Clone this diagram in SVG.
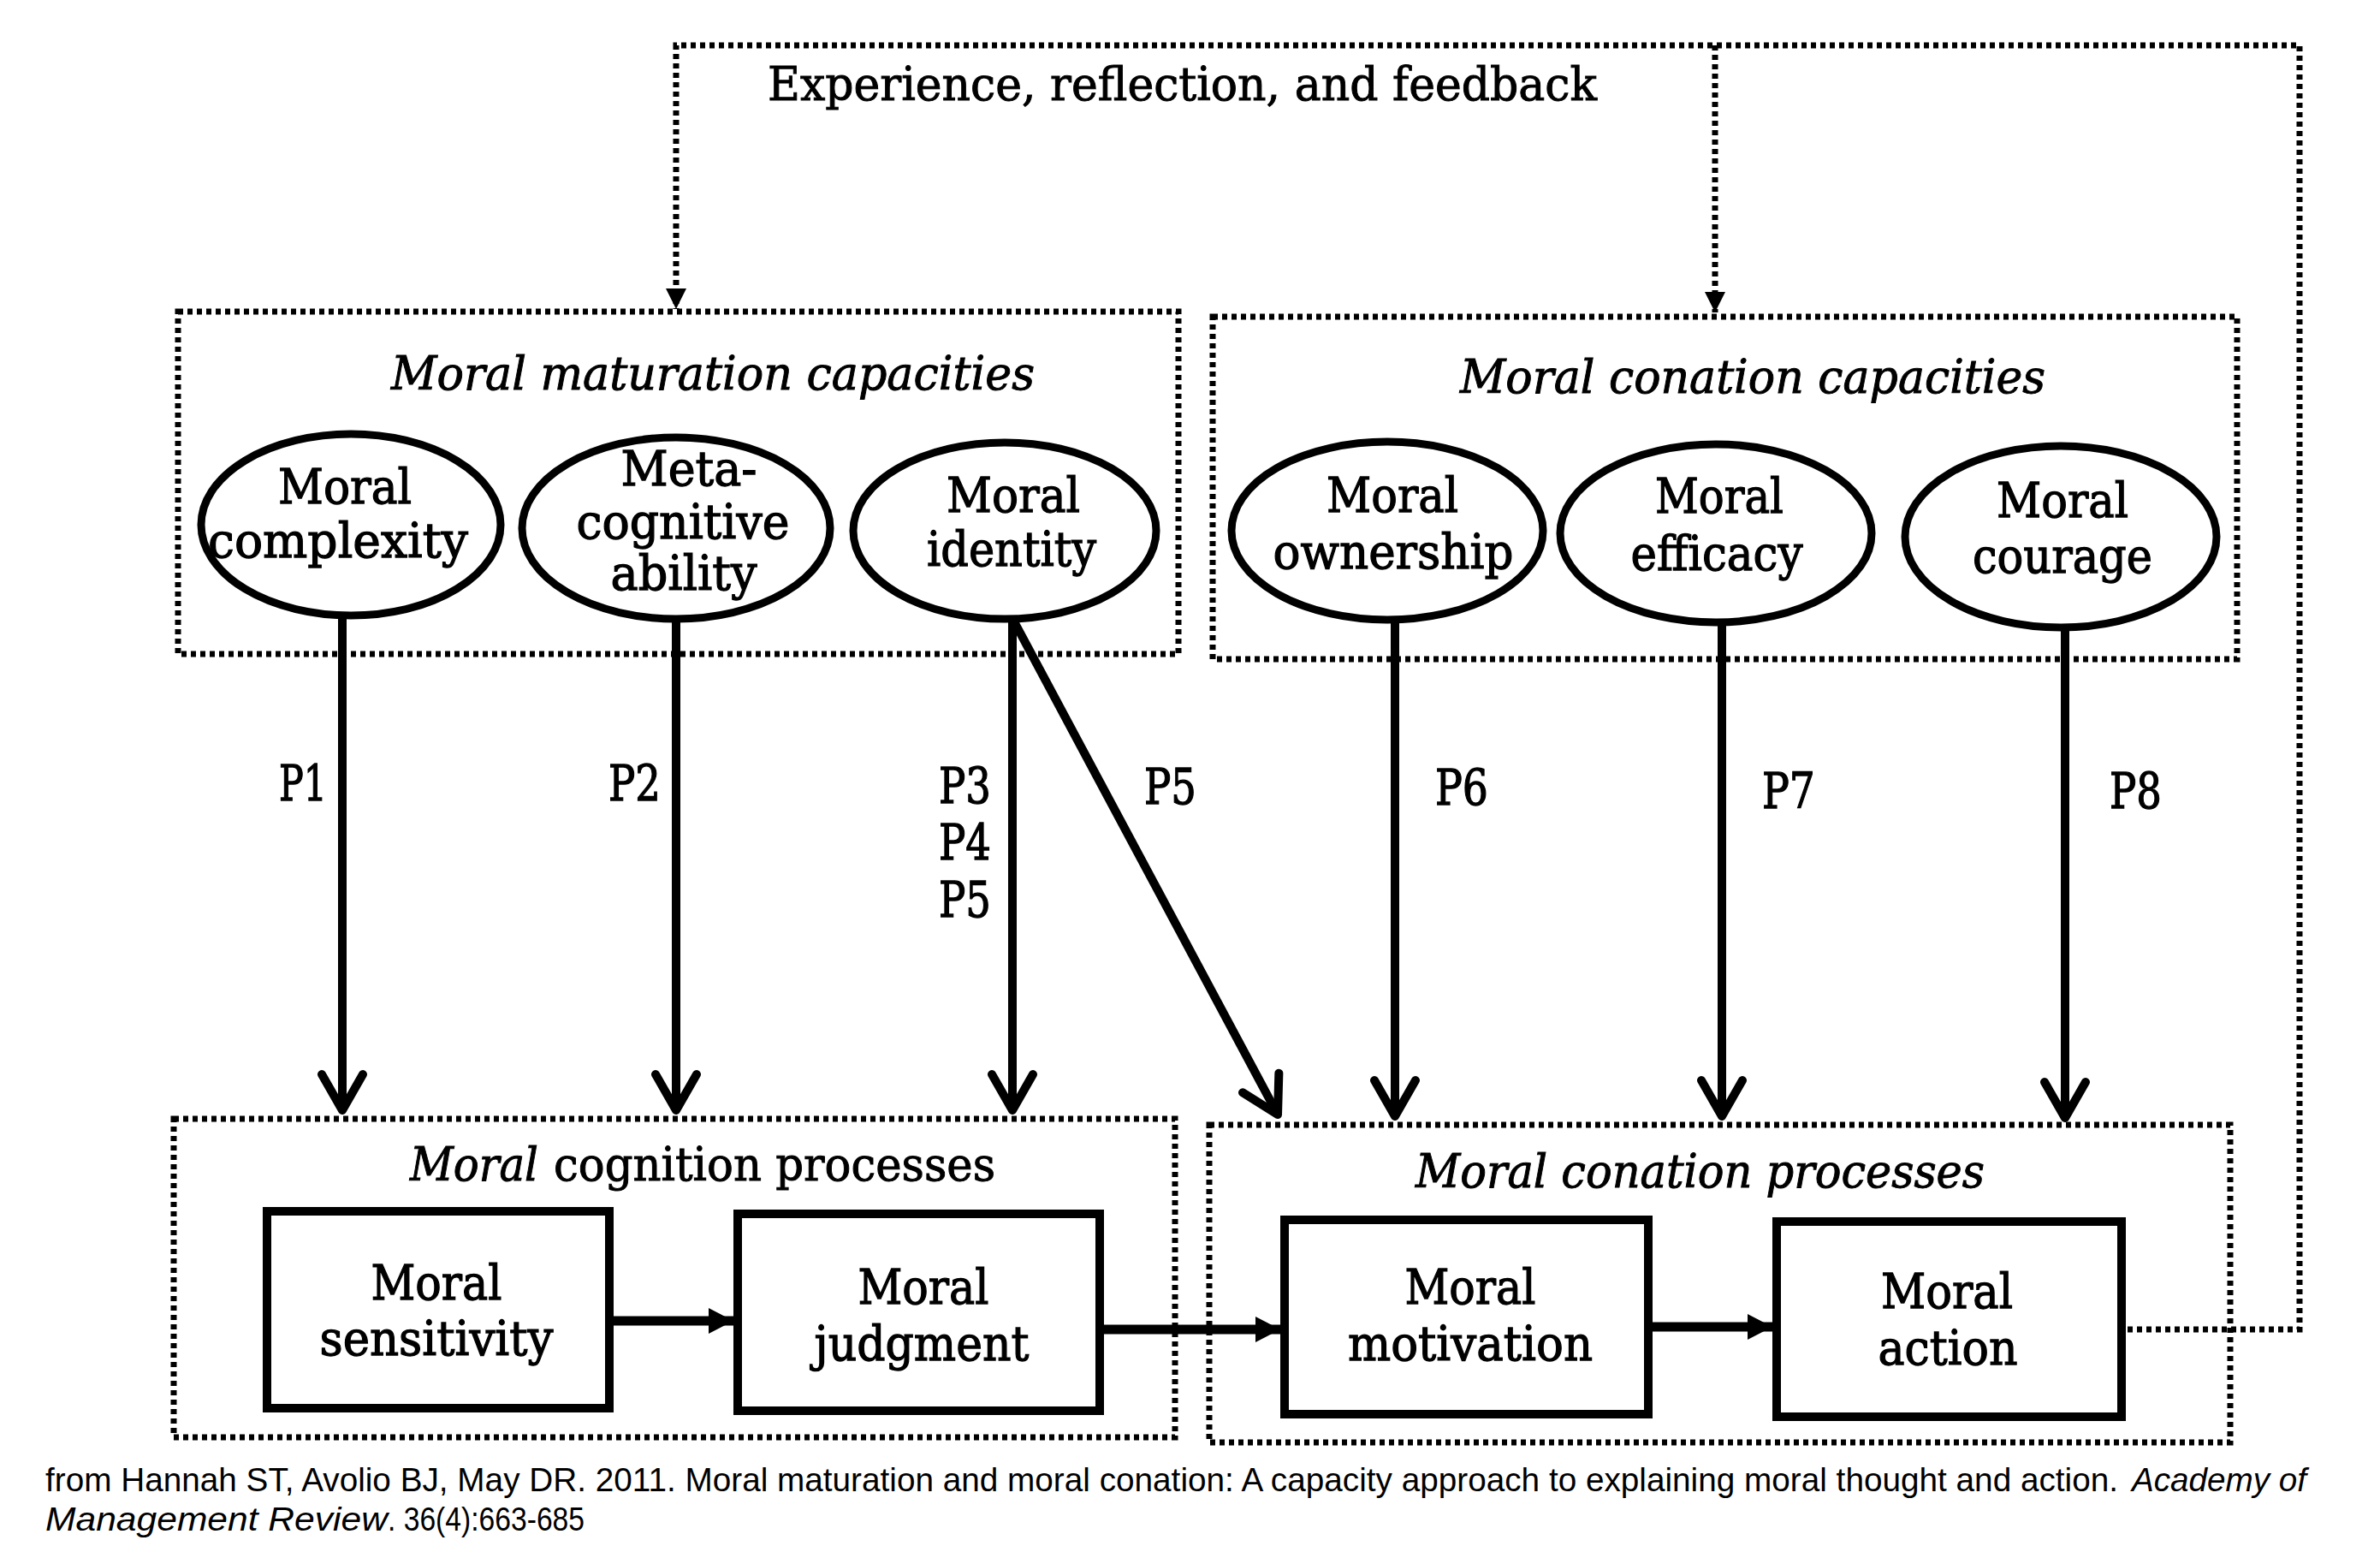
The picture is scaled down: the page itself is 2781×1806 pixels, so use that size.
<svg xmlns="http://www.w3.org/2000/svg" width="2781" height="1806" viewBox="0 0 2781 1806">
<style>
.bg{fill:#fff}
.dot{fill:none;stroke:#000;stroke-width:7;stroke-dasharray:6 5}
.ell{fill:#fff;stroke:#000;stroke-width:9}
.box{fill:#fff;stroke:#000;stroke-width:10}
.shaft{fill:none;stroke:#000;stroke-width:10}
.hshaft{fill:none;stroke:#000;stroke-width:11}
.lbl{font-family:"DejaVu Serif","Liberation Serif",serif;font-size:56px;fill:#000;stroke:#000;stroke-width:1.3;text-anchor:middle}
.ttl{font-family:"DejaVu Serif","Liberation Serif",serif;font-size:54px;fill:#000;stroke:#000;stroke-width:1;font-style:italic}
.up{font-style:normal}
.p{font-family:"DejaVu Serif","Liberation Serif",serif;font-size:57px;fill:#000;stroke:#000;stroke-width:1.3}
.cite{font-family:"Liberation Sans","Open Sans",sans-serif;font-size:38px;fill:#000}
.it{font-style:italic}
</style>
<defs>
<marker id="v" viewBox="-60 -40 80 80" markerWidth="80" markerHeight="80" refX="0" refY="0" orient="auto" markerUnits="userSpaceOnUse">
<path d="M-42,-24 L0,0 L-42,24" fill="none" stroke="#000" stroke-width="10" stroke-linejoin="round" stroke-linecap="round"/>
</marker>
<marker id="tri" viewBox="-40 -20 50 40" markerWidth="50" markerHeight="40" refX="0" refY="0" orient="auto" markerUnits="userSpaceOnUse">
<path d="M-29,-15 L0,0 L-29,15 Z" fill="#000"/>
</marker>
<marker id="ft" viewBox="-30 -15 40 30" markerWidth="40" markerHeight="30" refX="0" refY="0" orient="auto" markerUnits="userSpaceOnUse">
<path d="M-24,-12 L0,0 L-24,12 Z" fill="#000"/>
</marker>
</defs>
<rect class="bg" x="0" y="0" width="2781" height="1806"/>

<g id="feedback">
<path class="dot" d="M2486,1553 H2687 V53 H790 V361" marker-end="url(#ft)"/>
<path class="dot" d="M2004,53 V365" marker-end="url(#ft)"/>
<text class="ttl up" x="897" y="117" textLength="969" lengthAdjust="spacingAndGlyphs">Experience, reflection, and feedback</text>
</g>

<g id="maturation-capacities">
<rect class="dot" x="208" y="364" width="1169" height="400"/>
<text class="ttl" x="457" y="455" textLength="752" lengthAdjust="spacingAndGlyphs">Moral maturation capacities</text>
</g>
<g id="conation-capacities">
<rect class="dot" x="1417" y="370" width="1197" height="400"/>
<text class="ttl" x="1706" y="459" textLength="684" lengthAdjust="spacingAndGlyphs">Moral conation capacities</text>
</g>
<g id="cognition-processes">
<rect class="dot" x="203" y="1307" width="1170" height="372"/>
<text class="ttl" x="479" y="1379" textLength="150" lengthAdjust="spacingAndGlyphs">Moral</text>
<text class="ttl up" x="647" y="1379" textLength="516" lengthAdjust="spacingAndGlyphs">cognition processes</text>
</g>
<g id="conation-processes">
<rect class="dot" x="1413" y="1314" width="1193" height="371"/>
<text class="ttl" x="1654" y="1387" textLength="665" lengthAdjust="spacingAndGlyphs">Moral conation processes</text>
</g>

<g id="connectors">
<line class="shaft" x1="400" y1="722" x2="400" y2="1297" marker-end="url(#v)"/>
<line class="shaft" x1="790" y1="727" x2="790" y2="1297" marker-end="url(#v)"/>
<line class="shaft" x1="1183" y1="726" x2="1183" y2="1297" marker-end="url(#v)"/>
<line class="shaft" x1="1186" y1="728" x2="1493" y2="1302" marker-end="url(#v)"/>
<line class="shaft" x1="1630" y1="727" x2="1630" y2="1304" marker-end="url(#v)"/>
<line class="shaft" x1="2012" y1="731" x2="2012" y2="1304" marker-end="url(#v)"/>
<line class="shaft" x1="2413" y1="736" x2="2413" y2="1306" marker-end="url(#v)"/>
<line class="hshaft" x1="717" y1="1543" x2="857" y2="1543" marker-end="url(#tri)"/>
<line class="hshaft" x1="1290" y1="1553" x2="1496" y2="1553" marker-end="url(#tri)"/>
<line class="hshaft" x1="1931" y1="1550" x2="2071" y2="1550" marker-end="url(#tri)"/>
<text class="p" x="326" y="935" textLength="56" lengthAdjust="spacingAndGlyphs">P1</text>
<text class="p" x="711" y="935" textLength="61" lengthAdjust="spacingAndGlyphs">P2</text>
<text class="p" x="1097" y="938" textLength="61" lengthAdjust="spacingAndGlyphs">P3</text>
<text class="p" x="1097" y="1004" textLength="61" lengthAdjust="spacingAndGlyphs">P4</text>
<text class="p" x="1097" y="1071" textLength="61" lengthAdjust="spacingAndGlyphs">P5</text>
<text class="p" x="1337" y="939" textLength="61" lengthAdjust="spacingAndGlyphs">P5</text>
<text class="p" x="1677" y="940" textLength="62" lengthAdjust="spacingAndGlyphs">P6</text>
<text class="p" x="2059" y="944" textLength="62" lengthAdjust="spacingAndGlyphs">P7</text>
<text class="p" x="2465" y="944" textLength="61" lengthAdjust="spacingAndGlyphs">P8</text>
</g>

<g id="moral-complexity">
<ellipse class="ell" cx="410" cy="613" rx="175" ry="106"/>
<text class="lbl" x="403" y="588" textLength="156" lengthAdjust="spacingAndGlyphs">Moral</text>
<text class="lbl" x="395" y="651" textLength="304" lengthAdjust="spacingAndGlyphs">complexity</text>
</g>
<g id="metacognitive-ability">
<ellipse class="ell" cx="790" cy="617" rx="180" ry="106"/>
<text class="lbl" x="805" y="567" textLength="159" lengthAdjust="spacingAndGlyphs">Meta-</text>
<text class="lbl" x="798" y="629" textLength="249" lengthAdjust="spacingAndGlyphs">cognitive</text>
<text class="lbl" x="799" y="689" textLength="171" lengthAdjust="spacingAndGlyphs">ability</text>
</g>
<g id="moral-identity">
<ellipse class="ell" cx="1174" cy="620" rx="177" ry="103"/>
<text class="lbl" x="1184" y="598" textLength="156" lengthAdjust="spacingAndGlyphs">Moral</text>
<text class="lbl" x="1182" y="661" textLength="198" lengthAdjust="spacingAndGlyphs">identity</text>
</g>
<g id="moral-ownership">
<ellipse class="ell" cx="1621" cy="620" rx="182" ry="104"/>
<text class="lbl" x="1627" y="598" textLength="154" lengthAdjust="spacingAndGlyphs">Moral</text>
<text class="lbl" x="1628" y="664" textLength="281" lengthAdjust="spacingAndGlyphs">ownership</text>
</g>
<g id="moral-efficacy">
<ellipse class="ell" cx="2005" cy="623" rx="182" ry="104"/>
<text class="lbl" x="2009" y="599" textLength="150" lengthAdjust="spacingAndGlyphs">Moral</text>
<text class="lbl" x="2006" y="666" textLength="201" lengthAdjust="spacingAndGlyphs">efficacy</text>
</g>
<g id="moral-courage">
<ellipse class="ell" cx="2408" cy="627" rx="182" ry="106"/>
<text class="lbl" x="2410" y="604" textLength="154" lengthAdjust="spacingAndGlyphs">Moral</text>
<text class="lbl" x="2410" y="669" textLength="210" lengthAdjust="spacingAndGlyphs">courage</text>
</g>

<g id="moral-sensitivity">
<rect class="box" x="312" y="1415" width="400" height="230"/>
<text class="lbl" x="510" y="1518" textLength="153" lengthAdjust="spacingAndGlyphs">Moral</text>
<text class="lbl" x="510" y="1583" textLength="273" lengthAdjust="spacingAndGlyphs">sensitivity</text>
</g>
<g id="moral-judgment">
<rect class="box" x="862" y="1418" width="423" height="230"/>
<text class="lbl" x="1079" y="1523" textLength="153" lengthAdjust="spacingAndGlyphs">Moral</text>
<text class="lbl" x="1077" y="1589" textLength="251" lengthAdjust="spacingAndGlyphs">judgment</text>
</g>
<g id="moral-motivation">
<rect class="box" x="1501" y="1425" width="425" height="227"/>
<text class="lbl" x="1718" y="1523" textLength="153" lengthAdjust="spacingAndGlyphs">Moral</text>
<text class="lbl" x="1718" y="1589" textLength="286" lengthAdjust="spacingAndGlyphs">motivation</text>
</g>
<g id="moral-action">
<rect class="box" x="2076" y="1427" width="403" height="228"/>
<text class="lbl" x="2275" y="1528" textLength="154" lengthAdjust="spacingAndGlyphs">Moral</text>
<text class="lbl" x="2276" y="1594" textLength="163" lengthAdjust="spacingAndGlyphs">action</text>
</g>

<g id="citation">
<text class="cite" x="53" y="1742" textLength="2422" lengthAdjust="spacingAndGlyphs">from Hannah ST, Avolio BJ, May DR. 2011. Moral maturation and moral conation: A capacity approach to explaining moral thought and action.</text>
<text class="cite it" x="2491" y="1742" textLength="204" lengthAdjust="spacingAndGlyphs">Academy of</text>
<text class="cite it" x="53" y="1788" textLength="400" lengthAdjust="spacingAndGlyphs">Management Review</text>
<text class="cite" x="453" y="1788" textLength="230" lengthAdjust="spacingAndGlyphs">. 36(4):663-685</text>
</g>
</svg>
